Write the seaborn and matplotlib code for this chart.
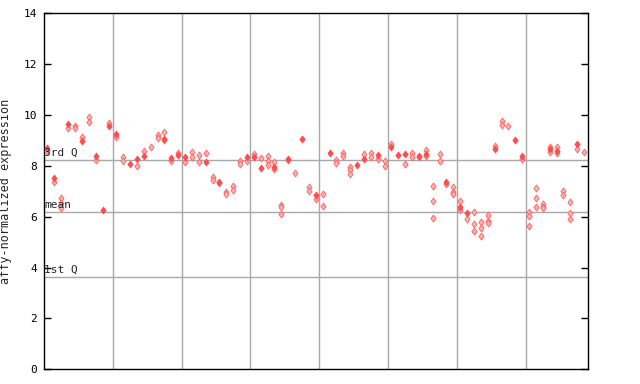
import numpy as np
import pandas as pd
import seaborn as sns
import matplotlib
matplotlib.use("Agg")
import matplotlib.pyplot as plt
from matplotlib.path import Path

# per-sample values (79 samples, index 0..78)
# solid = filled diamonds, hatched = dithered diamonds
solid_vals = [
    [8.72], [7.53], [], [9.66], [], [8.99], [], [8.40], [6.25], [9.57],
    [9.24], [], [8.08], [8.26], [8.40], [], [], [9.06], [8.32], [8.42],
    [8.36], [], [], [8.16], [], [7.37], [], [], [], [8.34],
    [8.36], [7.93], [], [7.95], [], [8.28], [], [9.05], [], [6.86],
    [], [8.52], [], [], [], [8.03], [8.26], [], [8.41], [],
    [8.75], [8.43], [8.47], [], [8.39], [8.47], [], [], [7.38], [],
    [6.38], [6.16], [], [], [], [8.68], [], [], [9.03], [8.40],
    [], [], [], [8.65], [8.60], [], [], [8.87], [],
]
hatched_vals = [
    [8.6], [7.38], [6.72, 6.55, 6.36], [9.48], [9.58, 9.47], [9.15], [9.91, 9.73], [8.22], [], [9.69],
    [9.12], [8.33, 8.18], [], [7.99], [8.57], [8.75], [9.22, 9.10], [9.32, 9.0], [8.19], [8.49],
    [8.14], [8.53, 8.34], [8.43, 8.16], [8.49], [7.57, 7.45], [7.32], [6.98, 6.88], [7.22, 7.05], [8.19, 8.06], [8.19],
    [8.45], [8.30], [8.37, 8.20, 8.04], [8.14, 7.86], [6.46, 6.38, 6.11], [8.22], [7.71], [], [7.18, 7.01], [6.68],
    [6.88, 6.42], [], [8.22, 8.13], [8.50, 8.40], [7.95, 7.85, 7.67], [], [8.46], [8.49, 8.36], [8.27], [8.19, 8.01],
    [8.86], [], [8.07], [8.52, 8.34], [8.36], [8.62, 8.38], [7.20, 6.60, 5.94], [8.45, 8.18], [7.27], [7.16, 6.97, 6.90],
    [6.60, 6.27], [5.90], [6.17, 5.70, 5.43], [5.78, 5.54, 5.23], [6.06, 5.84, 5.74], [8.79], [9.75, 9.60], [9.58], [], [8.27],
    [6.17, 6.02, 5.63], [7.12, 6.72, 6.37], [6.50, 6.40, 6.33], [8.75, 8.53], [8.74, 8.50], [7.01, 6.85], [6.57, 6.13, 5.90], [8.65], [8.53],
]

q3_val = 8.22
mean_val = 6.20
q1_val = 3.62
group_edges = [9.5, 19.5, 29.5, 39.5, 49.5, 59.5, 69.5]
y_ticks = [0, 2, 4, 6, 8, 10, 12, 14]

rows = []
for i, vals in enumerate(hatched_vals):
    for v in vals:
        rows.append((i, v, "hatched"))
for i, vals in enumerate(solid_vals):
    for v in vals:
        rows.append((i, v, "solid"))
df = pd.DataFrame(rows, columns=["sample", "value", "kind"])

sns.set_style("white")
plt.rcParams["font.family"] = ["DejaVu Sans Mono"]

fig = plt.figure(figsize=(6.4, 3.84), dpi=100)
ax = fig.add_axes([0.0688, 0.0383, 0.8492, 0.9271])

diamond = Path([(0, 1), (0.75, 0), (0, -1), (-0.75, 0), (0, 1)],
               [Path.MOVETO, Path.LINETO, Path.LINETO, Path.LINETO, Path.CLOSEPOLY])

for x in group_edges:
    ax.axvline(x, color="#a8a8a8", lw=1, zorder=1)
for y in (q3_val, mean_val, q1_val):
    ax.axhline(y, color="#a8a8a8", lw=1, zorder=1)

sns.scatterplot(data=df[df["kind"] == "hatched"], x="sample", y="value", ax=ax,
                marker=diamond, s=25, color="#ffb0b0", edgecolor="#ff6060",
                linewidth=0.6, legend=False, zorder=3)
sns.scatterplot(data=df[df["kind"] == "solid"], x="sample", y="value", ax=ax,
                marker=diamond, s=25, color="#ff4d4d", edgecolor="#ff4d4d",
                linewidth=0.6, legend=False, zorder=4)

ax.set_xlim(-0.5, 78.5)
ax.set_ylim(0, 14)
ax.set_xticks([])
ax.set_yticks(y_ticks)
ax.tick_params(axis="y", direction="in", length=5, width=1, pad=5,
               labelsize=8, left=True, right=True, colors="black")
for sp in ax.spines.values():
    sp.set_color("black")
    sp.set_linewidth(1)

ax.set_xlabel("")
ax.set_ylabel("affy-normalized expression", fontsize=8.5)
ax.yaxis.set_label_coords(-0.059, 0.5)

for y, lab in ((q3_val, "3rd Q"), (mean_val, "mean"), (q1_val, "1st Q")):
    ax.text(-0.45, y + 0.08, lab, fontsize=8, va="bottom", ha="left", zorder=5)

fig.savefig("out.png", dpi=100, facecolor="white")
